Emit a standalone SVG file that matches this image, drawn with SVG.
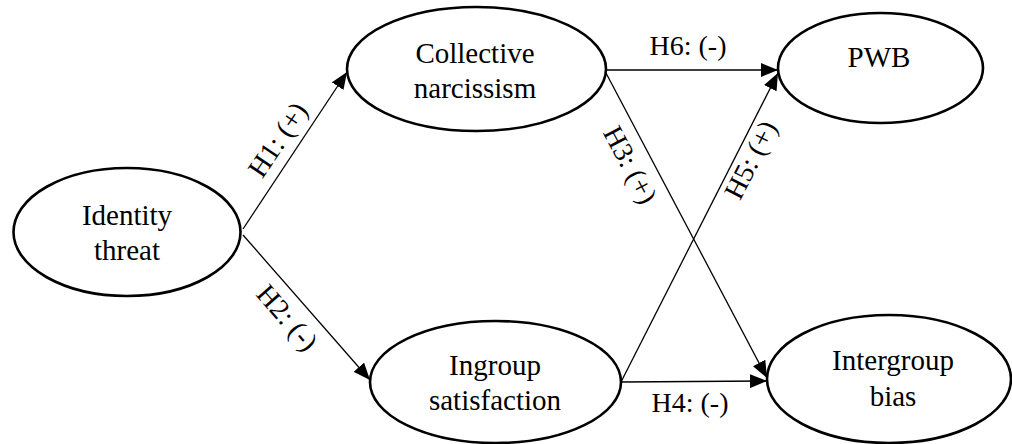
<svg xmlns="http://www.w3.org/2000/svg" width="1012" height="444" viewBox="0 0 1012 444">
<style>
.node ellipse{fill:#fff;stroke:#000;stroke-width:2.6}
.node text{font-family:"Liberation Serif","Times New Roman",serif;font-size:29px;fill:#000;text-anchor:middle}
.edge line{stroke:#000;stroke-width:1.3;marker-end:url(#arr)}
.lbl{font-family:"Liberation Serif","Times New Roman",serif;font-size:28px;fill:#000;text-anchor:middle}
</style>
<defs>
<marker id="arr" markerUnits="userSpaceOnUse" markerWidth="18" markerHeight="14" viewBox="0 0 18 14" refX="17" refY="7" orient="auto">
<path d="M0,0 L17,7 L0,14 z" fill="#000"/>
</marker>
</defs>
<rect width="1012" height="444" fill="#fff"/>
<g id="connectors" class="edge">
<line x1="243" y1="229" x2="347" y2="72"/>
<line x1="243" y1="235" x2="370" y2="380"/>
<line x1="606" y1="70" x2="778" y2="70"/>
<line x1="606" y1="73" x2="767" y2="378"/>
<line x1="621" y1="382" x2="778" y2="73"/>
<line x1="621" y1="382" x2="767" y2="381"/>
</g>
<g id="labels">
<text class="lbl" transform="translate(278,140) rotate(-56)" x="0" y="9">H1: (+)</text>
<text class="lbl" transform="translate(287,318) rotate(49)" x="0" y="9">H2: (-)</text>
<text class="lbl" transform="translate(630,165) rotate(62)" x="0" y="9">H3: (+)</text>
<text class="lbl" transform="translate(751,160) rotate(-63)" x="0" y="9">H5: (+)</text>
<text class="lbl" x="688" y="55">H6: (-)</text>
<text class="lbl" x="690" y="412">H4: (-)</text>
</g>
<g id="identity-threat" class="node">
<ellipse cx="127" cy="232" rx="113.5" ry="64"/>
<text x="127" y="225">Identity</text>
<text x="127" y="260">threat</text>
</g>
<g id="collective-narcissism" class="node">
<ellipse cx="476.5" cy="69" rx="129.5" ry="62"/>
<text x="475" y="63">Collective</text>
<text x="475" y="98">narcissism</text>
</g>
<g id="pwb" class="node">
<ellipse cx="880.5" cy="68" rx="102.5" ry="55"/>
<text x="879" y="67">PWB</text>
</g>
<g id="ingroup-satisfaction" class="node">
<ellipse cx="495.5" cy="382" rx="125.5" ry="61"/>
<text x="495" y="375">Ingroup</text>
<text x="495" y="410">satisfaction</text>
</g>
<g id="intergroup-bias" class="node">
<ellipse cx="889" cy="379" rx="122" ry="64"/>
<text x="893" y="370">Intergroup</text>
<text x="893" y="406">bias</text>
</g>
</svg>
